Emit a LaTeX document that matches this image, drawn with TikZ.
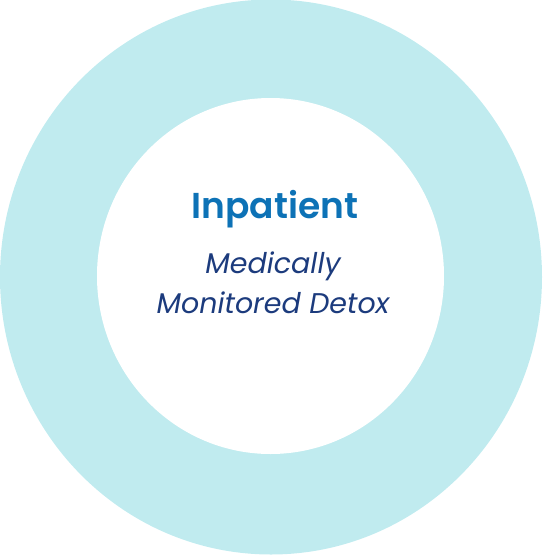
\documentclass[tikz,border=0pt]{standalone}
\usepackage{fontspec}
\setmainfont{Poppins}[Ligatures=NoCommon, BoldFont={Poppins SemiBold}]
\definecolor{ringc}{HTML}{C0EBEF}
\definecolor{titlec}{HTML}{0D72B6}
\definecolor{subc}{HTML}{1C3B7D}
\tikzset{
  ring/.style={fill=ringc, draw=none},
  hole/.style={fill=white, draw=none},
  titletext/.style={text=titlec, font=\fontsize{36}{40}\selectfont\bfseries, inner sep=0pt, anchor=base},
  subtext/.style={text=subc, font=\fontsize{28.5}{32}\selectfont\itshape, inner sep=0pt, anchor=base}
}
\begin{document}
\begin{tikzpicture}[x=1pt,y=-1pt]
\useasboundingbox (0,0) rectangle (542,555);
\fill[ring] (271,277) ellipse [x radius=271, y radius=277.5];
\fill[hole] (270.5,276) ellipse [x radius=173.5, y radius=178];
\node[titletext] (title) at (275,218) {Inpatient};
\node[subtext] (sub1) at (273,273) {Medically};
\node[subtext] (sub2) at (273,313) {Monitored Detox};
\end{tikzpicture}
\end{document}
